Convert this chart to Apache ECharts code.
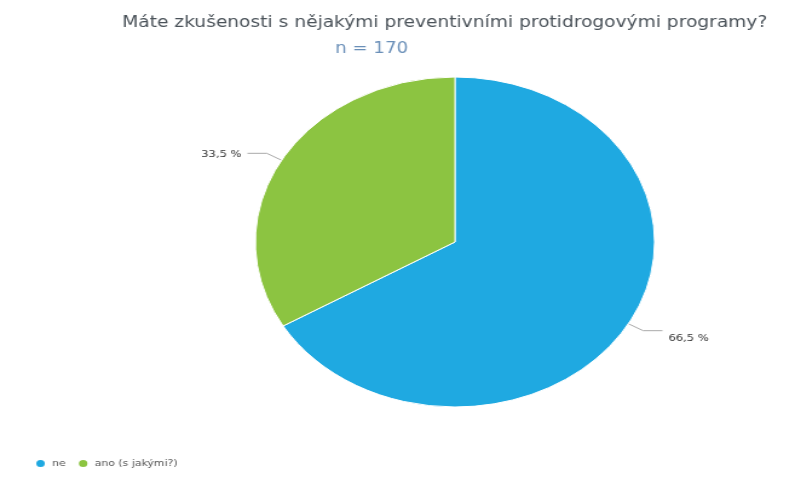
<!DOCTYPE html>
<html>
<head>
<meta charset="utf-8">
<script src="https://cdn.jsdelivr.net/npm/echarts@6/dist/echarts.min.js"></script>
<style>
  html, body { margin: 0; padding: 0; background: #fff; overflow: hidden; }
  #wrap { width: 790px; height: 477px; overflow: hidden; }
  /* the chart is drawn narrower and widened horizontally, giving an oval pie */
  #chart { width: 653px; height: 477px; transform: scaleX(1.21); transform-origin: 0 0; }
</style>
</head>
<body>
<div id="wrap"><div id="chart"></div></div>
<script>
const titleText = 'Máte zkušenosti s nějakými preventivními protidrogovými programy?';
const subtitleText = 'n = 170';
const categories = ['ne', 'ano (s jakými?)'];
const shares = [66.5, 33.5];
const colors = ['#1fa9e1', '#8cc441'];

const chart = echarts.init(document.getElementById('chart'), null, { renderer: 'canvas' });

chart.setOption({
  animation: false,
  color: colors,
  title: [
    {
      text: titleText,
      left: 96,
      top: 10,
      textStyle: { fontFamily: 'DejaVu Sans', fontSize: 15.4, fontWeight: 'normal', color: '#4a5259' }
    },
    {
      text: subtitleText,
      left: 272,
      top: 37,
      textStyle: { fontFamily: 'DejaVu Sans', fontSize: 15, fontWeight: 'normal', color: '#6a8fb8' }
    }
  ],
  legend: {
    left: 23,
    bottom: 3,
    icon: 'circle',
    itemWidth: 9,
    itemHeight: 9,
    itemGap: 9,
    textStyle: { fontFamily: 'DejaVu Sans', fontSize: 9, color: '#555' },
    data: categories
  },
  series: [
    {
      type: 'pie',
      center: [376, 242],
      radius: 165,
      startAngle: 90,
      clockwise: true,
      itemStyle: { borderColor: '#fff', borderWidth: 1 },
      label: {
        show: true,
        fontFamily: 'DejaVu Sans',
        fontSize: 9.5,
        color: '#333',
        formatter: p => String(p.value).replace('.', ',') + ' %'
      },
      labelLine: {
        show: true,
        length: 14,
        length2: 16,
        lineStyle: { color: '#aaa', width: 1 }
      },
      labelLayout: p => (p.dataIndex === 0 ? { dy: 8 } : { dy: 1 }),
      data: categories.map((c, i) => ({ name: c, value: shares[i] }))
    }
  ]
});
</script>
</body>
</html>
